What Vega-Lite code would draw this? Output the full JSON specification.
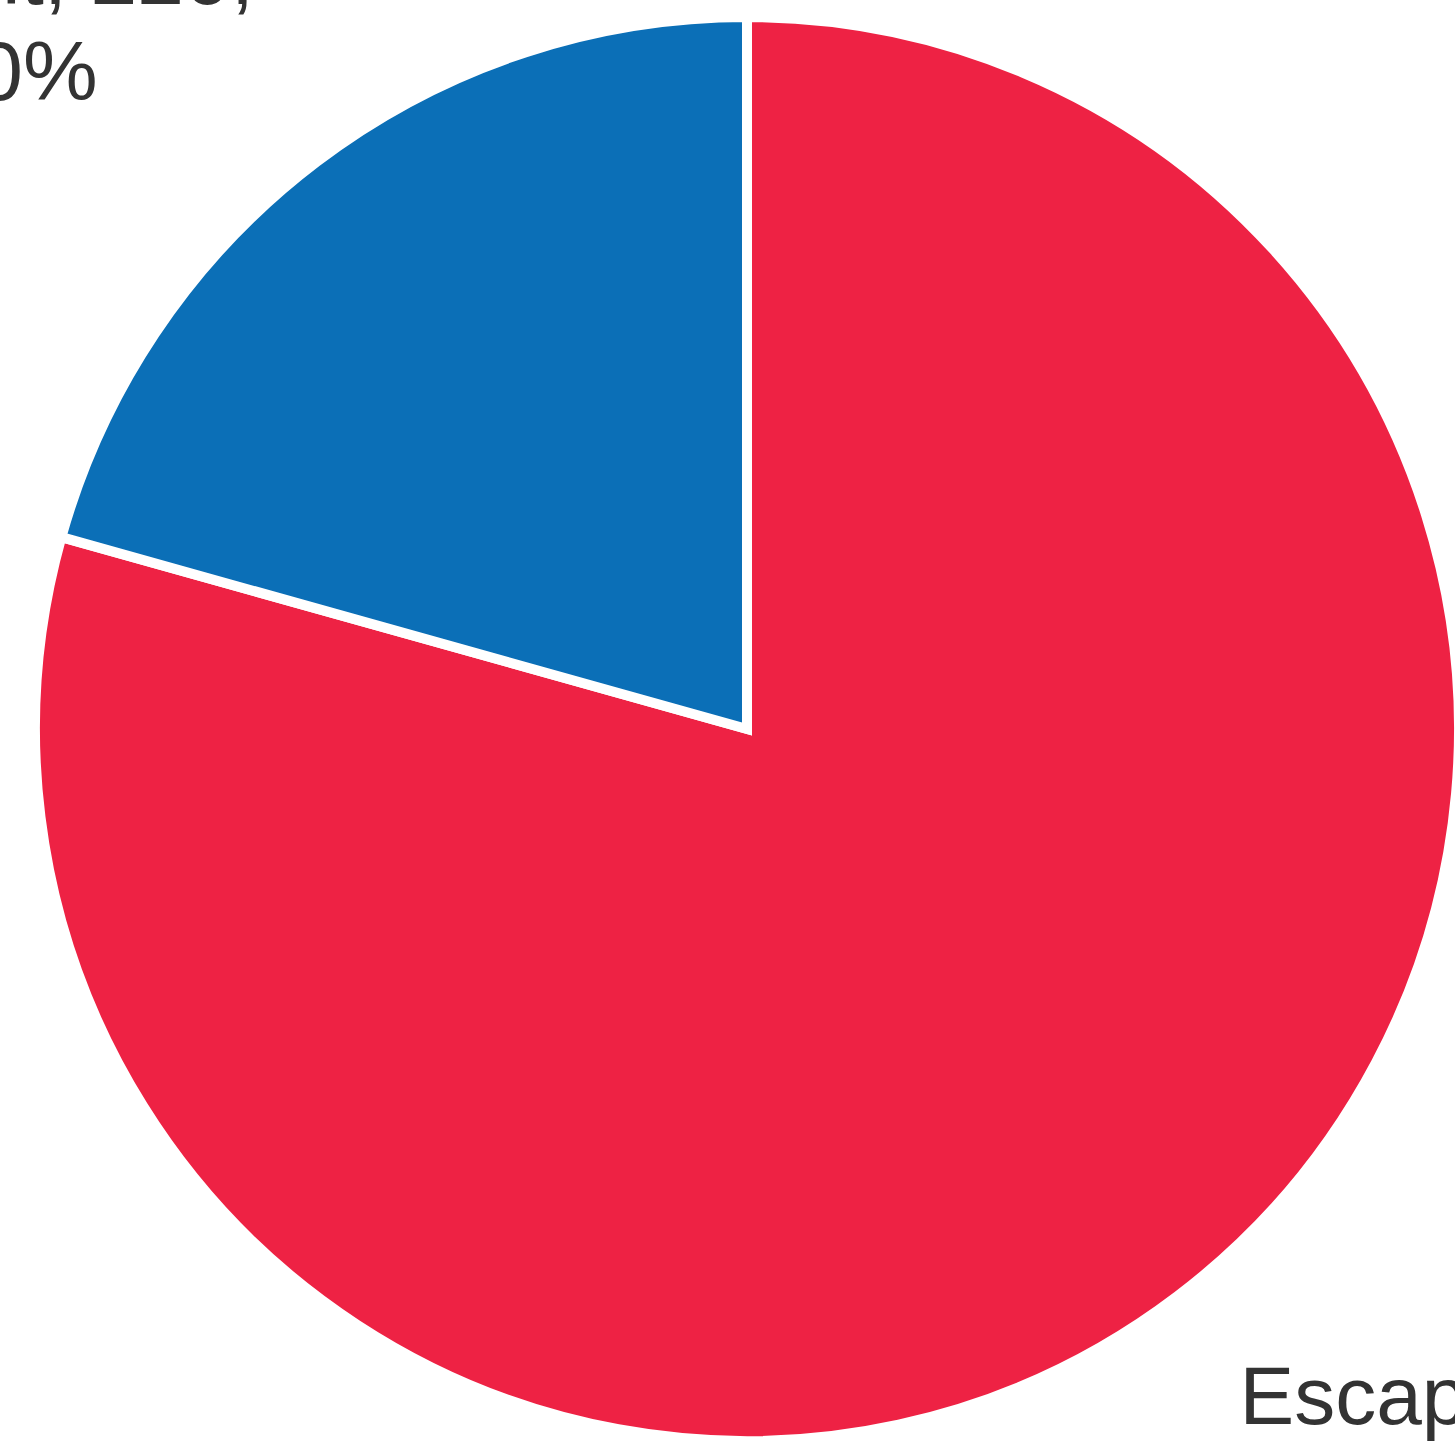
{
  "$schema": "https://vega.github.io/schema/vega-lite/v6.json",
  "width": 1416,
  "height": 1434,
  "autosize": {"type": "none"},
  "padding": {"left": 39, "top": 12, "right": 0, "bottom": 0},
  "background": "white",
  "config": {"view": {"stroke": null}},
  "data": {
    "values": [
      {"category": "Escaped", "value": 845, "label": "Escaped, 845,\n79%"},
      {"category": "Caught", "value": 220, "label": "Caught, 220,\n20%"}
    ]
  },
  "encoding": {
    "theta": {"field": "value", "type": "quantitative", "stack": true},
    "order": {"field": "value", "type": "quantitative", "sort": "descending"}
  },
  "layer": [
    {
      "mark": {"type": "arc", "outerRadius": 712, "stroke": "white", "strokeWidth": 10},
      "encoding": {
        "color": {
          "field": "category",
          "type": "nominal",
          "scale": {"domain": ["Escaped", "Caught"], "range": ["#EE2244", "#0B6FB7"]},
          "legend": null
        }
      }
    },
    {
      "mark": {"type": "text", "radius": 800, "align": "center", "baseline": "alphabetic", "dx": -250, "dy": -88, "fontSize": 84, "font": "Liberation Sans", "color": "#333333", "lineBreak": "\n", "lineHeight": 96},
      "encoding": {
        "text": {"condition": {"test": "datum.category === 'Caught'", "field": "label"}, "value": ""}
      }
    },
    {
      "mark": {"type": "text", "radius": 800, "align": "left", "baseline": "alphabetic", "dx": 9, "dy": 58, "fontSize": 82, "font": "Liberation Sans", "color": "#333333", "lineBreak": "\n", "lineHeight": 96},
      "encoding": {
        "text": {"condition": {"test": "datum.category === 'Escaped'", "field": "label"}, "value": ""}
      }
    }
  ]
}
